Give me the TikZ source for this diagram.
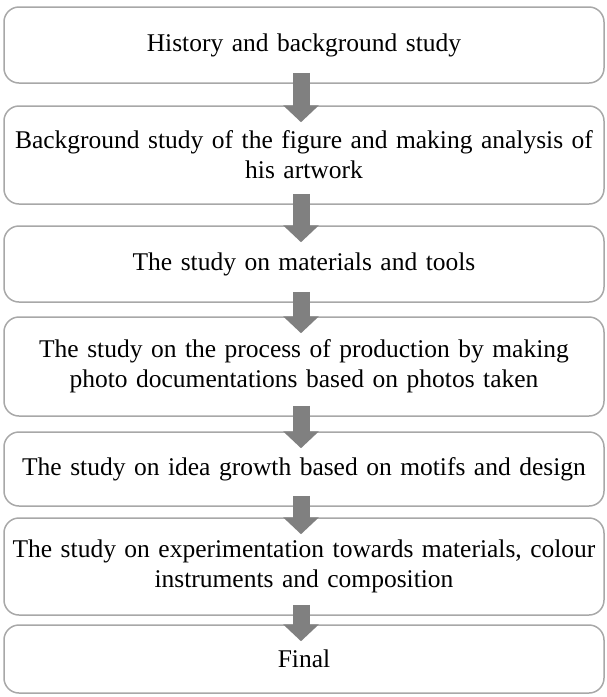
\documentclass[tikz,border=0pt]{standalone}
\usepackage{fontspec}
\setmainfont{Liberation Serif}
\usepackage{tikz}
\usetikzlibrary{arrows.meta, positioning}
\definecolor{boxgray}{rgb}{0.66,0.66,0.66}
\definecolor{arrowgray}{rgb}{0.50,0.50,0.50}

\begin{document}
\begin{tikzpicture}[
    x=1pt, y=-1pt,
    stage/.style={rectangle, draw=boxgray, line width=1.5pt, rounded corners=15pt, minimum width=600pt, text width=590pt, align=center, inner sep=0pt, font=\fontsize{25.5}{30}\selectfont},
    flow/.style={-{Triangle[length=17pt, width=35pt]}, line width=17pt, arrowgray},
]
\useasboundingbox (0,0) rectangle (607,697);

% === Stages ===
\node[stage, minimum height=76pt] (history) at (304, 45) {History and background study};
\node[stage, minimum height=98pt] (figure) at (304, 155) {Background study of the figure and making analysis of\\his artwork};
\node[stage, minimum height=76pt] (tools) at (304, 264) {The study on materials and tools};
\node[stage, minimum height=99pt] (process) at (304, 366.5) {The study on the process of production by making\\photo documentations based on photos taken};
\node[stage, minimum height=74pt] (idea) at (304, 469) {The study on idea growth based on motifs and design};
\node[stage, minimum height=97pt] (experiment) at (304, 566.5) {The study on experimentation towards materials, colour\\instruments and composition};
\node[stage, minimum height=68pt] (final) at (304, 659) {Final};

% === Arrows ===
\draw[flow] ([xshift=-3pt, yshift=11pt]history.south) -- ([xshift=-3pt, yshift=-17pt]figure.north);
\draw[flow] ([xshift=-3pt, yshift=11pt]figure.south) -- ([xshift=-3pt, yshift=-17pt]tools.north);
\draw[flow] ([xshift=-3pt, yshift=11pt]tools.south) -- ([xshift=-3pt, yshift=-17pt]process.north);
\draw[flow] ([xshift=-3pt, yshift=11pt]process.south) -- ([xshift=-3pt, yshift=-17pt]idea.north);
\draw[flow] ([xshift=-3pt, yshift=11pt]idea.south) -- ([xshift=-3pt, yshift=-17pt]experiment.north);
\draw[flow] ([xshift=-3pt, yshift=11pt]experiment.south) -- ([xshift=-3pt, yshift=-17pt]final.north);

\end{tikzpicture}
\end{document}
